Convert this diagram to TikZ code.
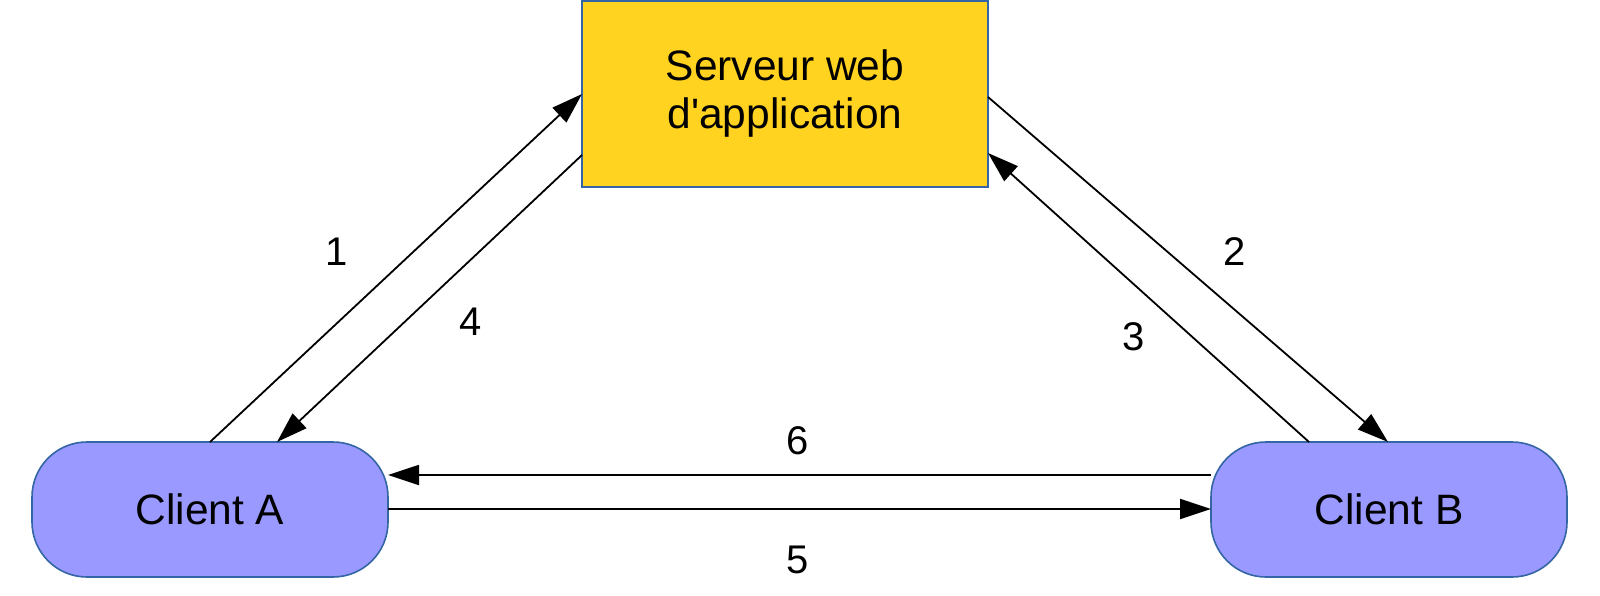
\documentclass[tikz,border=0pt]{standalone}
\usepackage{fontspec}
\setmainfont{Liberation Sans}
\usetikzlibrary{arrows.meta,calc}
\definecolor{srvfill}{HTML}{FFD320}
\definecolor{cliFill}{HTML}{9999FF}
\definecolor{edgeblue}{HTML}{3465A4}
\tikzset{
  base/.style={draw=edgeblue,line width=1.6pt,inner sep=0pt,outer sep=0pt,align=center,
    font=\fontsize{42.5}{48}\selectfont},
  server/.style={base,fill=srvfill,minimum width=406pt,minimum height=186pt},
  client/.style={base,fill=cliFill,minimum width=356pt,minimum height=135pt,rounded corners=55pt},
  conn/.style={line width=1.8pt,-{Triangle[length=31pt,width=20pt]}},
  lbl/.style={font=\fontsize{40}{47}\selectfont,inner sep=0pt}
}
\begin{document}
\begin{tikzpicture}[x=1pt,y=-1pt]
\useasboundingbox (0,0) rectangle (1600,596);
\node[server] (srv) at (785,94) {Serveur web\\d\textquotesingle application};
\node[client] (cA) at (210,509.5) {Client A};
\node[client] (cB) at (1389,509.5) {Client B};
\draw[conn] ($(cA.north west)+(178,0)$) -- ($(srv.north west)+(0,93)$);
\draw[conn] ($(srv.north west)+(0,154)$) -- ($(cA.north west)+(245,0)$);
\draw[conn] ($(srv.north east)+(0,96)$) -- ($(cB.north west)+(177,0)$);
\draw[conn] ($(cB.north west)+(98,0)$) -- ($(srv.north east)+(0,152)$);
\draw[conn] ($(cB.north west)+(0,33)$) -- ($(cA.north east)+(0,33)$);
\draw[conn] ($(cA.north east)+(0,67)$) -- ($(cB.north west)+(0,67)$);
\node[lbl] (l1) at (337,252) {1};
\node[lbl] (l4) at (471,322) {4};
\node[lbl] (l2) at (1235,252) {2};
\node[lbl] (l3) at (1134,337) {3};
\node[lbl] (l6) at (798,441) {6};
\node[lbl] (l5) at (798,560) {5};
\end{tikzpicture}
\end{document}
